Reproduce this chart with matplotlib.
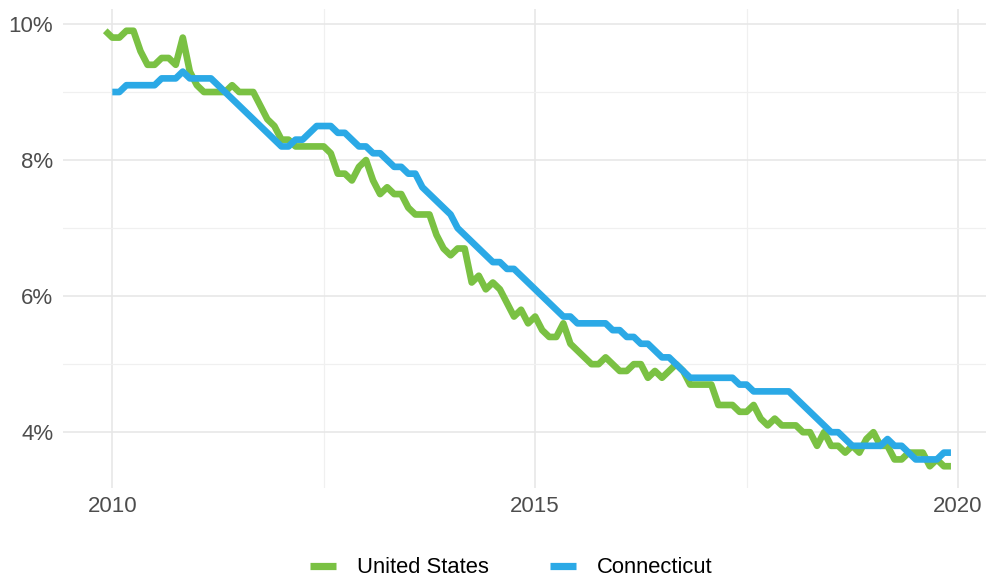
import matplotlib
matplotlib.use("Agg")
import matplotlib.pyplot as plt
import numpy as np
from matplotlib.ticker import FuncFormatter, MultipleLocator

# monthly unemployment rate (%), United States starts Dec 2009
us_start = (2009, 12)
us_rate = [
    9.9,
    9.8, 9.8, 9.9, 9.9, 9.6, 9.4, 9.4, 9.5, 9.5, 9.4, 9.8, 9.3,   # 2010
    9.1, 9.0, 9.0, 9.0, 9.0, 9.1, 9.0, 9.0, 9.0, 8.8, 8.6, 8.5,   # 2011
    8.3, 8.3, 8.2, 8.2, 8.2, 8.2, 8.2, 8.1, 7.8, 7.8, 7.7, 7.9,   # 2012
    8.0, 7.7, 7.5, 7.6, 7.5, 7.5, 7.3, 7.2, 7.2, 7.2, 6.9, 6.7,   # 2013
    6.6, 6.7, 6.7, 6.2, 6.3, 6.1, 6.2, 6.1, 5.9, 5.7, 5.8, 5.6,   # 2014
    5.7, 5.5, 5.4, 5.4, 5.6, 5.3, 5.2, 5.1, 5.0, 5.0, 5.1, 5.0,   # 2015
    4.9, 4.9, 5.0, 5.0, 4.8, 4.9, 4.8, 4.9, 5.0, 4.9, 4.7, 4.7,   # 2016
    4.7, 4.7, 4.4, 4.4, 4.4, 4.3, 4.3, 4.4, 4.2, 4.1, 4.2, 4.1,   # 2017
    4.1, 4.1, 4.0, 4.0, 3.8, 4.0, 3.8, 3.8, 3.7, 3.8, 3.7, 3.9,   # 2018
    4.0, 3.8, 3.8, 3.6, 3.6, 3.7, 3.7, 3.7, 3.5, 3.6, 3.5, 3.5,   # 2019
]

# Connecticut starts Jan 2010
ct_start = (2010, 1)
ct_rate = [
    9.0, 9.0, 9.1, 9.1, 9.1, 9.1, 9.1, 9.2, 9.2, 9.2, 9.3, 9.2,   # 2010
    9.2, 9.2, 9.2, 9.1, 9.0, 8.9, 8.8, 8.7, 8.6, 8.5, 8.4, 8.3,   # 2011
    8.2, 8.2, 8.3, 8.3, 8.4, 8.5, 8.5, 8.5, 8.4, 8.4, 8.3, 8.2,   # 2012
    8.2, 8.1, 8.1, 8.0, 7.9, 7.9, 7.8, 7.8, 7.6, 7.5, 7.4, 7.3,   # 2013
    7.2, 7.0, 6.9, 6.8, 6.7, 6.6, 6.5, 6.5, 6.4, 6.4, 6.3, 6.2,   # 2014
    6.1, 6.0, 5.9, 5.8, 5.7, 5.7, 5.6, 5.6, 5.6, 5.6, 5.6, 5.5,   # 2015
    5.5, 5.4, 5.4, 5.3, 5.3, 5.2, 5.1, 5.1, 5.0, 4.9, 4.8, 4.8,   # 2016
    4.8, 4.8, 4.8, 4.8, 4.8, 4.7, 4.7, 4.6, 4.6, 4.6, 4.6, 4.6,   # 2017
    4.6, 4.5, 4.4, 4.3, 4.2, 4.1, 4.0, 4.0, 3.9, 3.8, 3.8, 3.8,   # 2018
    3.8, 3.8, 3.9, 3.8, 3.8, 3.7, 3.6, 3.6, 3.6, 3.6, 3.7, 3.7,   # 2019
]

series_names = ['United States', 'Connecticut']
series_colors = ['#7AC143', '#2BA9E6']
x_ticks = [2010, 2015, 2020]
y_ticks = [4, 6, 8, 10]


def decimal_months(start, n):
    """Decimal year for each month, starting at (year, month)."""
    year, month = start
    return year + (month - 1) / 12 + np.arange(n) / 12


us_x = decimal_months(us_start, len(us_rate))
ct_x = decimal_months(ct_start, len(ct_rate))

plt.rcParams['font.family'] = ['Liberation Sans', 'DejaVu Sans']

fig = plt.figure(figsize=(9.87, 5.80), dpi=100)
ax = fig.add_axes([63 / 987, 92 / 580, 924 / 987, 479 / 580])

ax.plot(us_x, us_rate, color=series_colors[0], lw=4.8, label=series_names[0],
        solid_joinstyle='round', solid_capstyle='butt', zorder=3)
ax.plot(ct_x, ct_rate, color=series_colors[1], lw=4.8, label=series_names[1],
        solid_joinstyle='round', solid_capstyle='butt', zorder=4)

ax.set_xlim(2009.417, 2020.343)
ax.set_ylim(3.18, 10.22)

ax.set_xticks(x_ticks)
ax.xaxis.set_minor_locator(MultipleLocator(2.5))
ax.set_yticks(y_ticks)
ax.yaxis.set_minor_locator(MultipleLocator(1))
ax.yaxis.set_major_formatter(FuncFormatter(lambda v, p: '{:.0f}%'.format(v)))

ax.grid(which='major', color='#E6E6E6', lw=1.1)
ax.grid(which='minor', color='#F0F0F0', lw=0.9)
ax.set_axisbelow(True)
for s in ax.spines.values():
    s.set_visible(False)
ax.tick_params(which='both', length=0)
ax.tick_params(axis='both', labelsize=16, labelcolor='#4D4D4D')
ax.tick_params(axis='x', pad=6)
ax.tick_params(axis='y', pad=7)

leg = fig.legend(loc='center', bbox_to_anchor=(0.518, 0.021), ncol=2, frameon=False,
                 fontsize=15.8, handlelength=1.2, handletextpad=0.95, columnspacing=2.8)
for line in leg.get_lines():
    line.set_linewidth(5.2)

fig.savefig('out.png', dpi=100)
